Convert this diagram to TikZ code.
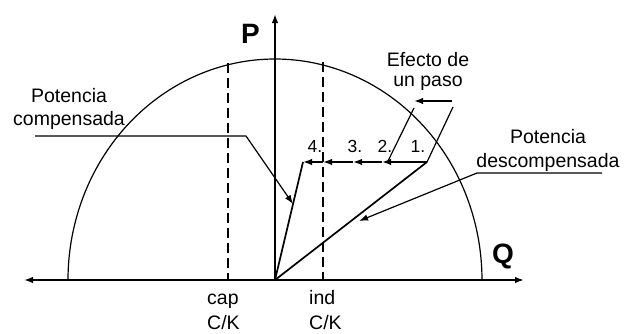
\documentclass[tikz,border=0pt]{standalone}
\usepackage{fontspec}
\setmainfont{Liberation Sans}
\usetikzlibrary{arrows.meta}
\begin{document}
\begin{tikzpicture}[x=1pt,y=-1pt,
  tipa/.style={-{Latex[length=9pt,width=6.5pt]}},
  axisline/.style={line width=1.6pt},
  vecline/.style={line width=1.7pt},
  leader/.style={line width=1.2pt},
  dashline/.style={line width=1.2pt,dash pattern=on 10pt off 5pt},
  lbl/.style={inner sep=0pt,font=\fontsize{19.5}{23.5}\selectfont},
  num/.style={inner sep=0pt,anchor=base,font=\fontsize{17.5}{20}\selectfont},
  big/.style={inner sep=0pt,anchor=base west,font=\fontsize{28}{30}\selectfont\bfseries}]
\useasboundingbox (0,0) rectangle (625,333);
% axes
\coordinate (O) at (275,280);
\coordinate (Ptop) at (275,14);
\coordinate (Qr) at (524,280);
\coordinate (Ql) at (24,280);
\draw[axisline,tipa] (O) -- (Ptop);
\draw[axisline,{Latex[length=9pt,width=6.5pt]}-{Latex[length=9pt,width=6.5pt]}] (Ql) -- (Qr);
\node[big] (P) at (241,43) {P};
\node[big] (Q) at (492,263) {Q};
% half ellipse
\draw[line width=1.2pt] plot[domain=0:180,samples=120,smooth] ({275+207*cos(\x)},{280-221*sin(\x)});
% dashed limits
\coordinate (capT) at (228,63);
\coordinate (capB) at (228,280);
\coordinate (indT) at (323,62);
\coordinate (indB) at (323,280);
\draw[dashline] (capT) -- (capB);
\draw[dashline] (indT) -- (indB);
\node[lbl,anchor=north west,align=left,font=\fontsize{19.5}{25}\selectfont] (cap) at (207,294) {cap\\C/K};
\node[lbl,anchor=north west,align=left,font=\fontsize{19.5}{25}\selectfont] (ind) at (309,290) {ind\\C/K};
% vectors
\coordinate (S) at (427,162);
\coordinate (C) at (303,162);
\draw[vecline] (O) -- (S);
\draw[vecline] (O) -- (C);
% steps
\coordinate (s1) at (382,162);
\coordinate (s2) at (353,162);
\coordinate (s3) at (323,162);
\draw[vecline,tipa] (S) -- (s1);
\draw[vecline,tipa] (s1) -- (s2);
\draw[vecline,tipa] (s2) -- (s3);
\draw[vecline,tipa] (s3) -- (C);
\node[num] (n1) at (418,152) {1.};
\node[num] (n2) at (385,152) {2.};
\node[num] (n3) at (355,152) {3.};
\node[num] (n4) at (315,152) {4.};
% effect of one step
\coordinate (eL) at (388,161);
\coordinate (eLt) at (414,108);
\coordinate (eRt) at (453,107);
\coordinate (eA) at (452,101);
\coordinate (eB) at (414,101);
\draw[leader] (eL) -- (eLt);
\draw[leader] (S) -- (eRt);
\draw[vecline,tipa] (eA) -- (eB);
\node[lbl,anchor=north,align=center,font=\fontsize{19.5}{20}\selectfont] (efecto) at (428,52) {Efecto de\\un paso};
% leaders
\node[lbl,anchor=north,align=center] (comp) at (69,88) {Potencia\\compensada};
\coordinate (cA) at (35,136);
\coordinate (cB) at (246,136);
\coordinate (cT) at (293,204);
\draw[leader,tipa] (cA) -- (cB) -- (cT);
\node[lbl,anchor=north,align=center,font=\fontsize{19.5}{24}\selectfont] (desc) at (548,129) {Potencia\\descompensada};
\coordinate (dA) at (602,173);
\coordinate (dB) at (477,173);
\coordinate (dT) at (359,221);
\draw[leader,tipa] (dA) -- (dB) -- (dT);
\end{tikzpicture}
\end{document}
